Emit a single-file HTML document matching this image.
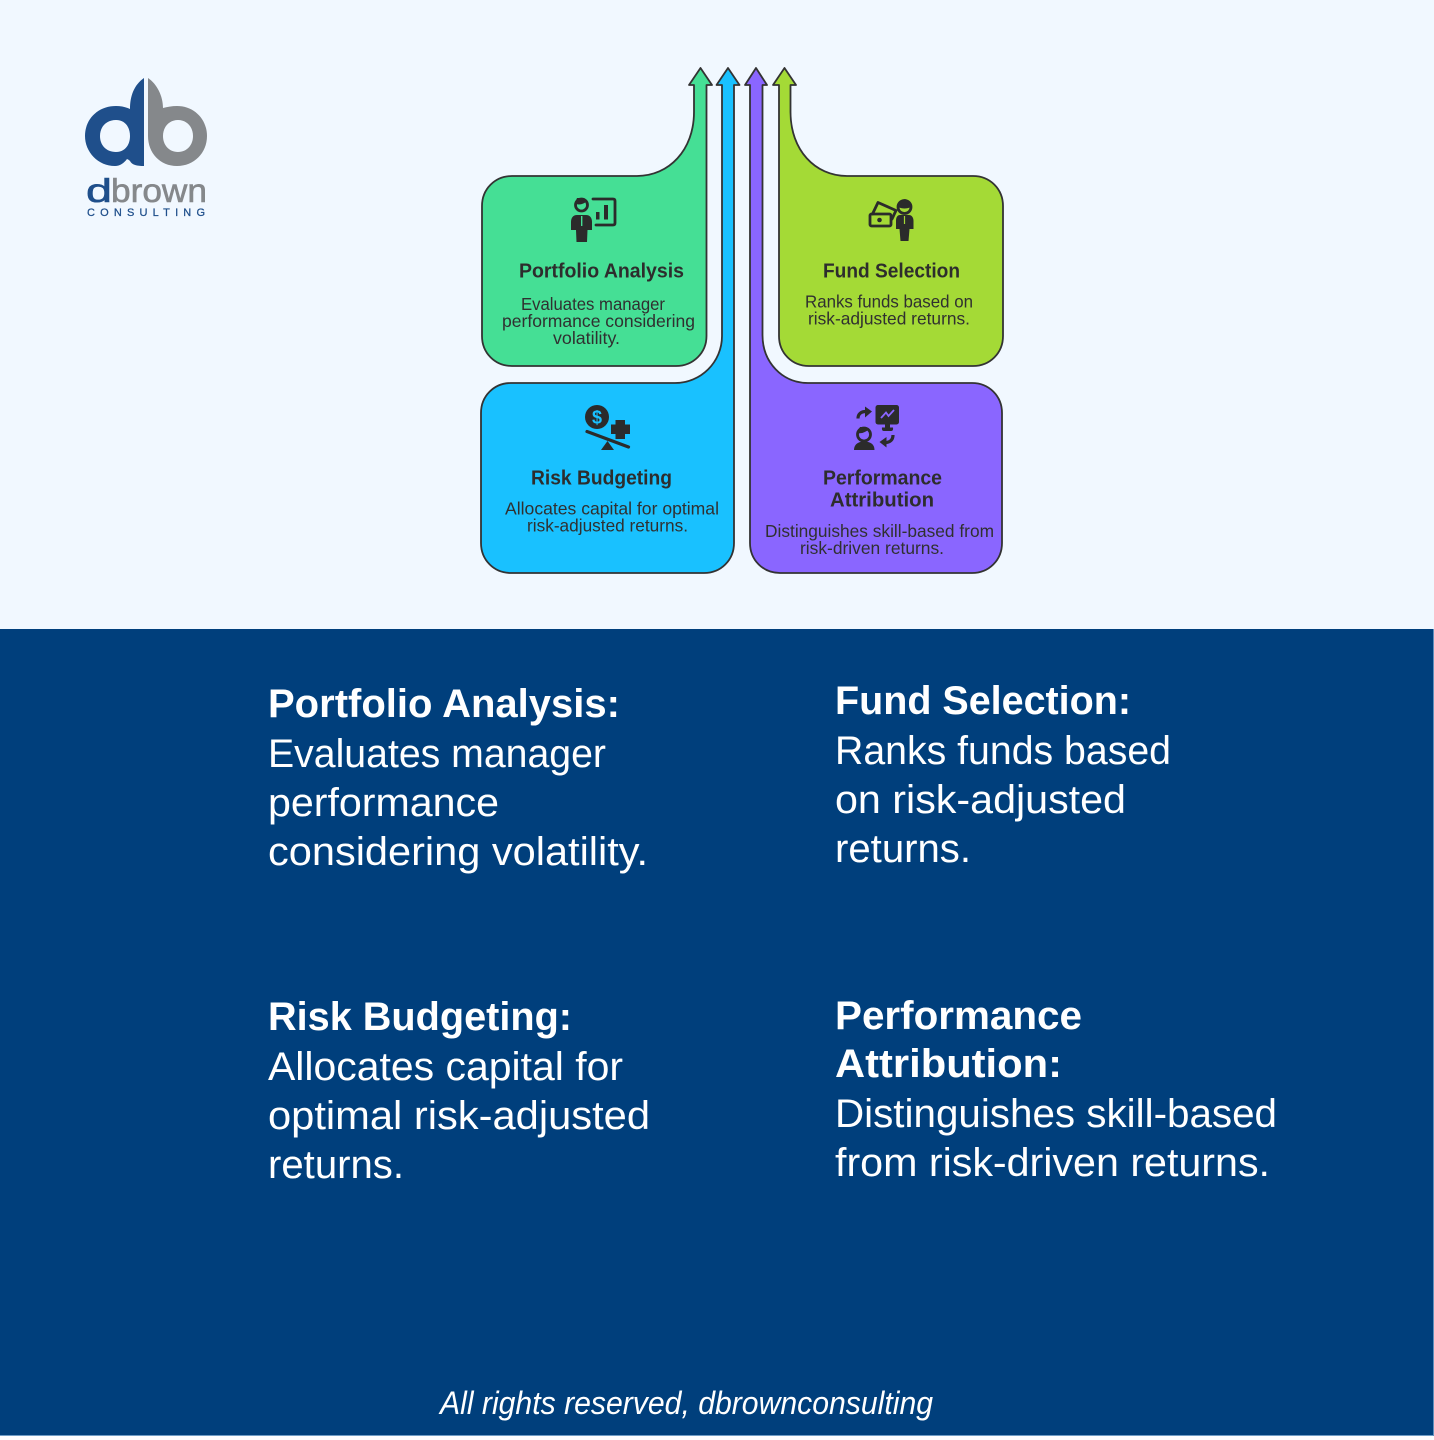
<!DOCTYPE html>
<html lang="en">
<head>
<meta charset="utf-8">
<title>Risk-adjusted returns diagram</title>
<style>
html,body{margin:0;padding:0;background:#f1f8ff;}
svg{display:block;}
text{font-family:"Liberation Sans",Arial,sans-serif;}
.big{font-size:40px;fill:#fff;}
.bigb{font-size:40px;fill:#fff;font-weight:700;}
.t{font-size:20px;font-weight:700;fill:#2d2d2d;}
.d{font-size:17.5px;fill:#303030;}
.shape{stroke:#333;stroke-width:1.800;stroke-linejoin:round;}
.ic{fill:#2b2b2b;}
.ol{fill:none;stroke:#2b2b2b;stroke-width:2.800;stroke-linejoin:round;stroke-linecap:round;}
</style>
</head>
<body>
<svg xmlns="http://www.w3.org/2000/svg" width="1434" height="1440" viewBox="0 0 1434 1440">
<rect width="1434" height="1440" fill="#f1f8ff"/>
<rect x="0" y="1436" width="1434" height="4" fill="#fcfdff"/>
<rect x="0" y="629" width="1434" height="807" fill="#003f7c"/>
<rect x="0" y="1435" width="1434" height="1" fill="#6f9cc6"/>
<rect x="1433" y="629" width="1" height="807" fill="#5f90bd"/>

<!-- Logo -->
<path fill="#1f4f8b" fill-rule="evenodd" d="M144,78 V166 C137,166 132,165 130,161 C129,160 129,160 127,159 C124,163 120,166 115,166 C98,166 85,152 85,136 C85,119 98,106 116,106 C121,106 126,107 130,109 C130,96 134,85 144,78 Z M116,120 C106,120 100,127 100,136 C100,145 106,152 116,152 C125,152 130,145 130,136 C130,127 125,120 116,120 Z"/>
<path fill="#85888b" fill-rule="evenodd" d="M148,78 C157,84 163,96 163,108 C167,107 172,106 177,106 C194,106 207,119 207,136 C207,153 194,166 177,166 C160,166 148,153 148,136 Z M178,120 C169,120 163,127 163,136 C163,145 169,152 178,152 C187,152 193,145 193,136 C193,127 187,120 178,120 Z"/>
<text x="86" y="202" font-size="33" fill="#1f4f8b" stroke="#1f4f8b" stroke-width=".6" textLength="26" lengthAdjust="spacingAndGlyphs">d</text>
<text x="111" y="202" font-size="33" fill="#85888b" stroke="#85888b" stroke-width=".6" textLength="96" lengthAdjust="spacingAndGlyphs">brown</text>
<text x="87" y="216" font-size="11" fill="#1f4f8b" stroke="#1f4f8b" stroke-width=".25" textLength="118">CONSULTING</text>

<!-- Purple -->
<path class="shape" fill="#8a66ff" d="M750,85 H745 L756,68 L767,85 H762.500 V335 C762.500,362 782,383 808,383 H972 C989,383 1002,396 1002,413 V543 C1002,560 989,573 972,573 H780 C763,573 750,560 750,543 Z"/>
<!-- Blue -->
<path class="shape" fill="#19c1ff" d="M722,85 H716.500 L728,68 L739.500,85 H734 V543 C734,560 721,573 704,573 H511 C494,573 481,560 481,543 V413 C481,396 494,383 511,383 H675 C701,383 722,362 722,336 Z"/>
<!-- Green -->
<path class="shape" fill="#45df95" d="M694,85 H689 L700.500,68 L712,85 H706.500 V336 C706.500,353 693,366 676,366 H512 C495,366 482,353 482,336 V206 C482,189 495,176 512,176 H637 C669,176 694,150 694,112 Z"/>
<!-- Lime -->
<path class="shape" fill="#a4da36" d="M779,85 H773 L784.500,68 L796,85 H790.500 V112 C790.500,150 815,176 847,176 H973 C990,176 1003,189 1003,206 V336 C1003,353 990,366 973,366 H809 C792,366 779,353 779,336 Z"/>

<!-- Portfolio icon -->
<circle cx="581.500" cy="205" r="6" fill="none" stroke="#2b2b2b" stroke-width="2.800"/>
<path class="ic" d="M575,203 C578,206 584,204 587,201 L584,198 L577,198 Z"/>
<path class="ic" d="M577,215 H586 C590,215 592,218 592,222 V230 H587.500 L587,242 H576.500 L576,230 H571 V222 C571,218 573,215 577,215 Z"/>
<path d="M581.700,216 V226" stroke="#45df95" stroke-width="1.400" fill="none"/>
<path class="ol" d="M593,199 H613 Q615,199 615,201 V223 Q615,225 613,225 H596"/>
<rect class="ic" x="596" y="212" width="3.500" height="7.500"/>
<rect class="ic" x="604" y="205" width="4" height="14.500"/>

<!-- Fund icon -->
<rect class="ol" x="870" y="214" width="21" height="12" rx="1.500"/>
<path class="ol" d="M872.500,214 L878,202.500 L896,210.500 L892,219"/>
<circle class="ic" cx="879.500" cy="220" r="2.300"/>
<circle cx="904.500" cy="207" r="6.500" fill="none" stroke="#2b2b2b" stroke-width="2.800"/>
<path class="ic" d="M898,207 C902,209 907,209 911,207 L911,203 L905,199 L899,202 Z"/>
<path class="ic" d="M900,215 H909 C912,215 913.500,218 913.500,221 V229 H909.500 L908.500,241 H900.500 L899.500,229 H896 V221 C896,218 897,215 900,215 Z"/>
<path d="M904.500,216 V224" stroke="#a4da36" stroke-width="1.200" fill="none"/>

<!-- Risk icon -->
<circle class="ic" cx="597" cy="417" r="12"/>
<text x="597" y="423.500" font-size="18" font-weight="700" fill="#19c1ff" text-anchor="middle">$</text>
<path class="ic" d="M615.500,420 H625 V424.500 H630 V434 H625 V439 H615.500 V434 H611 V424.500 H615.500 Z"/>
<path d="M587,431.500 L628.500,447" stroke="#2b2b2b" stroke-width="3.200" stroke-linecap="round" fill="none"/>
<path class="ic" d="M607.500,441 L614,450 H601 Z"/>

<!-- Performance icon -->
<rect class="ic" x="875.500" y="405" width="23.500" height="19.500" rx="2.500"/>
<path d="M881,418 L886,412.500 L888.500,416 L894,410" stroke="#8a66ff" stroke-width="1.800" fill="none"/>
<path class="ic" d="M885,424 H890 V427.500 H893 Q893.500,431 891,431 H884 Q881.500,431 882,427.500 H885 Z"/>
<path d="M858,418.500 C858,414 861,411.500 866,411.500" stroke="#2b2b2b" stroke-width="3.200" fill="none"/>
<path class="ic" d="M865,406.500 L872,411.500 L865,417.500 Z"/>
<circle cx="864" cy="434.500" r="6.500" fill="none" stroke="#2b2b2b" stroke-width="2.800"/>
<path class="ic" d="M857,433 C862,434 866,432 869,429 L866,427 H860 Z"/>
<path class="ic" d="M854,450 C854,444 859,441.500 864,441.500 C870,441.500 874.500,444 874.500,450 Z"/>
<path d="M893,435 C893,440 890,442.500 885,442.500" stroke="#2b2b2b" stroke-width="3.200" fill="none"/>
<path class="ic" d="M886.500,437 L879.500,442 L886.500,447.500 Z"/>

<!-- Card titles -->
<text class="t" x="519" y="277.500" textLength="165" lengthAdjust="spacingAndGlyphs">Portfolio Analysis</text>
<text class="t" x="823" y="277.500" textLength="137" lengthAdjust="spacingAndGlyphs">Fund Selection</text>
<text class="t" x="531" y="484.500" textLength="141" lengthAdjust="spacingAndGlyphs">Risk Budgeting</text>
<text class="t" x="823" y="484.500" textLength="119" lengthAdjust="spacingAndGlyphs">Performance</text>
<text class="t" x="830" y="506.500" textLength="104" lengthAdjust="spacingAndGlyphs">Attribution</text>

<!-- Card descriptions -->
<text class="d" x="521" y="310" textLength="144" lengthAdjust="spacingAndGlyphs">Evaluates manager</text>
<text class="d" x="502" y="327" textLength="193" lengthAdjust="spacingAndGlyphs">performance considering</text>
<text class="d" x="553" y="344" textLength="67" lengthAdjust="spacingAndGlyphs">volatility.</text>
<text class="d" x="805" y="307.500" textLength="168" lengthAdjust="spacingAndGlyphs">Ranks funds based on</text>
<text class="d" x="808" y="324.500" textLength="162" lengthAdjust="spacingAndGlyphs">risk-adjusted returns.</text>
<text class="d" x="505" y="514.500" textLength="214" lengthAdjust="spacingAndGlyphs">Allocates capital for optimal</text>
<text class="d" x="527" y="531.500" textLength="161" lengthAdjust="spacingAndGlyphs">risk-adjusted returns.</text>
<text class="d" x="765" y="537" textLength="229" lengthAdjust="spacingAndGlyphs">Distinguishes skill-based from</text>
<text class="d" x="800" y="554" textLength="144" lengthAdjust="spacingAndGlyphs">risk-driven returns.</text>

<!-- Lower panel -->
<text class="bigb" x="268" y="717" textLength="352" lengthAdjust="spacingAndGlyphs">Portfolio Analysis:</text>
<text class="big" x="268" y="767" textLength="338" lengthAdjust="spacingAndGlyphs">Evaluates manager</text>
<text class="big" x="268" y="816" textLength="231" lengthAdjust="spacingAndGlyphs">performance</text>
<text class="big" x="268" y="865" textLength="380" lengthAdjust="spacingAndGlyphs">considering volatility.</text>

<text class="bigb" x="835" y="714" textLength="296" lengthAdjust="spacingAndGlyphs">Fund Selection:</text>
<text class="big" x="835" y="764" textLength="336" lengthAdjust="spacingAndGlyphs">Ranks funds based</text>
<text class="big" x="835" y="813" textLength="291" lengthAdjust="spacingAndGlyphs">on risk-adjusted</text>
<text class="big" x="835" y="862" textLength="136" lengthAdjust="spacingAndGlyphs">returns.</text>

<text class="bigb" x="268" y="1030" textLength="304" lengthAdjust="spacingAndGlyphs">Risk Budgeting:</text>
<text class="big" x="268" y="1080" textLength="355" lengthAdjust="spacingAndGlyphs">Allocates capital for</text>
<text class="big" x="268" y="1129" textLength="382" lengthAdjust="spacingAndGlyphs">optimal risk-adjusted</text>
<text class="big" x="268" y="1178" textLength="136" lengthAdjust="spacingAndGlyphs">returns.</text>

<text class="bigb" x="835" y="1029" textLength="247" lengthAdjust="spacingAndGlyphs">Performance</text>
<text class="bigb" x="835" y="1077" textLength="227" lengthAdjust="spacingAndGlyphs">Attribution:</text>
<text class="big" x="835" y="1127" textLength="442" lengthAdjust="spacingAndGlyphs">Distinguishes skill-based</text>
<text class="big" x="835" y="1176" textLength="435" lengthAdjust="spacingAndGlyphs">from risk-driven returns.</text>

<text x="440" y="1414" font-size="32" font-style="italic" fill="#fff" textLength="493" lengthAdjust="spacingAndGlyphs">All rights reserved, dbrownconsulting</text>
</svg>
</body>
</html>
